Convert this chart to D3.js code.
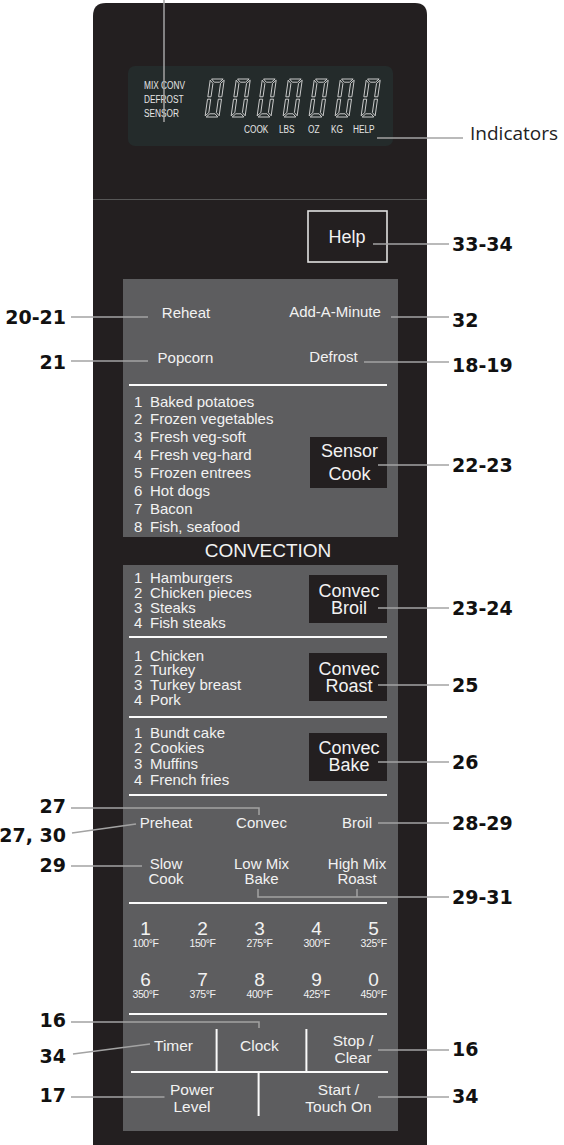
<!DOCTYPE html>
<html>
<head>
<meta charset="utf-8">
<script src="https://cdn.jsdelivr.net/npm/d3@7"></script>
<style>
  body { margin: 0; background: #fff; }
</style>
</head>
<body>
<div id="panel"></div>
<script>

// texts shown on the control panel
var modeIndicators = ["MIX CONV", "DEFROST", "SENSOR"];
var unitIndicators = ["COOK", "LBS", "OZ", "KG", "HELP"];
var displayDigits = [0, 0, 0, 0, 0, 0, 0];
var sensorFoods = ["Baked potatoes", "Frozen vegetables", "Fresh veg-soft", "Fresh veg-hard",
                   "Frozen entrees", "Hot dogs", "Bacon", "Fish, seafood"];
var broilFoods = ["Hamburgers", "Chicken pieces", "Steaks", "Fish steaks"];
var roastFoods = ["Chicken", "Turkey", "Turkey breast", "Pork"];
var bakeFoods = ["Bundt cake", "Cookies", "Muffins", "French fries"];
var numberKeys = ["1", "2", "3", "4", "5", "6", "7", "8", "9", "0"];
var keyTemps = ["100°F", "150°F", "275°F", "300°F", "325°F", "350°F", "375°F", "400°F", "425°F", "450°F"];
var convecModes = [["Preheat"], ["Convec"], ["Broil"], ["Slow", "Cook"], ["Low Mix", "Bake"], ["High Mix", "Roast"]];
var rightCallouts = ["33-34", "32", "18-19", "22-23", "23-24", "25", "26", "28-29", "29-31", "16", "34"];
var leftCallouts = ["20-21", "21", "27", "27, 30", "29", "16", "34", "17"];

var W = 564, H = 1145;
var dark = "#231f20", grey = "#5d5d5f", ink = "#f2f2f2", lead = "#a3a3a3";
var sans = "'Liberation Sans', Arial, sans-serif";

var svg = d3.select("#panel")
  .append("svg")
    .attr("width", W)
    .attr("height", H);

// ---------- top part with the display ----------
svg.append("path")
  .attr("d", "M93,200 V16 Q93,3 106,3 H415 Q427,3 427,15 V200 Z")
  .attr("fill", dark);

svg.append("rect")
  .attr("x", 128).attr("y", 66).attr("width", 265).attr("height", 80).attr("rx", 7)
  .attr("fill", "#242b2b");

var yMode = d3.scalePoint().domain(d3.range(modeIndicators.length)).range([89, 117]);
svg.append("g").selectAll("text")
  .data(modeIndicators)
  .enter().append("text")
    .attr("font-family", sans).attr("font-size", 11.5)
    .attr("fill", "#e6e6e6")
    .attr("transform", function(d, i) { return "translate(144," + yMode(i) + ") scale(0.72,1)"; })
    .text(function(d) { return d; });

// seven segment digits (all showing 0)
var xDigit = d3.scalePoint().domain(d3.range(displayDigits.length)).range([205, 361]);
var dw = 14, dh = 38, t = 3.2, g = 1.2;
var segs = [
  [[g, -dh], [dw - g, -dh], [dw - g - t, -dh + t], [g + t, -dh + t]],
  [[g, 0], [dw - g, 0], [dw - g - t, -t], [g + t, -t]],
  [[0, -dh + g], [t, -dh + g + t], [t, -dh / 2 - g], [0, -dh / 2 - g]],
  [[0, -g], [t, -g - t], [t, -dh / 2 + g], [0, -dh / 2 + g]],
  [[dw, -dh + g], [dw - t, -dh + g + t], [dw - t, -dh / 2 - g], [dw, -dh / 2 - g]],
  [[dw, -g], [dw - t, -g - t], [dw - t, -dh / 2 + g], [dw, -dh / 2 + g]]
];
var digitG = svg.append("g").selectAll("g")
  .data(displayDigits)
  .enter().append("g")
    .attr("transform", function(d, i) { return "translate(" + xDigit(i) + ",117) skewX(-8)"; });
digitG.selectAll("path")
  .data(segs)
  .enter().append("path")
    .attr("d", function(s) { return "M" + s.join("L") + "Z"; })
    .attr("fill", "none")
    .attr("stroke", "#d6d6d6")
    .attr("stroke-width", 0.9);

var unitX = [244, 279, 308, 331, 353];
svg.append("g").selectAll("text")
  .data(unitIndicators)
  .enter().append("text")
    .attr("font-family", sans).attr("font-size", 11.5)
    .attr("fill", "#e6e6e6")
    .attr("transform", function(d, i) { return "translate(" + unitX[i] + ",133) scale(0.72,1)"; })
    .text(function(d) { return d; });

// ---------- main keypad ----------
svg.append("rect")
  .attr("x", 93).attr("y", 200).attr("width", 334).attr("height", H - 200)
  .attr("fill", dark);
svg.append("line")
  .attr("x1", 93).attr("x2", 427).attr("y1", 199.5).attr("y2", 199.5)
  .attr("stroke", "#575757").attr("stroke-width", 1);

svg.append("rect")
  .attr("x", 308).attr("y", 211).attr("width", 79).attr("height", 51)
  .attr("fill", "none").attr("stroke", "#e0e0e0").attr("stroke-width", 1.6);

svg.append("rect").attr("x", 123).attr("y", 279).attr("width", 275).attr("height", 258).attr("fill", grey);
svg.append("rect").attr("x", 123).attr("y", 565).attr("width", 275).attr("height", 566).attr("fill", grey);

function label(x, y, lines, size, lh) {
  var tx = svg.append("text")
    .attr("x", x).attr("y", y)
    .attr("text-anchor", "middle")
    .attr("font-family", sans).attr("font-size", size)
    .attr("fill", ink);
  lines.forEach(function(s, i) {
    tx.append("tspan").attr("x", x).attr("y", y + i * lh).text(s);
  });
}

label(347, 243, ["Help"], 18, 0);
label(186, 318, ["Reheat"], 15, 0);
label(335, 317, ["Add-A-Minute"], 15, 0);
label(185.5, 363, ["Popcorn"], 15, 0);
label(333.5, 362, ["Defrost"], 15, 0);

function rule(y) {
  svg.append("line")
    .attr("x1", 129).attr("x2", 387).attr("y1", y).attr("y2", y)
    .attr("stroke", "#fafafa").attr("stroke-width", 2);
}
[385, 637, 717, 795, 903, 1014].forEach(rule);

// numbered food lists
function foodList(items, y0, y1) {
  var y = d3.scalePoint().domain(d3.range(items.length)).range([y0, y1]);
  var gl = svg.append("g")
    .attr("font-family", sans).attr("font-size", 15).attr("fill", ink);
  gl.selectAll(".num").data(items).enter().append("text")
    .attr("x", 134).attr("y", function(d, i) { return y(i); })
    .text(function(d, i) { return i + 1; });
  gl.selectAll(".name").data(items).enter().append("text")
    .attr("x", 150).attr("y", function(d, i) { return y(i); })
    .text(function(d) { return d; });
}
foodList(sensorFoods, 406.5, 531.5);
foodList(broilFoods, 582.5, 628);
foodList(roastFoods, 660.5, 704.5);
foodList(bakeFoods, 737.5, 785);

function darkKey(x, y, w, h, lines, ty, lh) {
  svg.append("rect").attr("x", x).attr("y", y).attr("width", w).attr("height", h).attr("fill", dark);
  label(x + w / 2 + 1, ty, lines, 18, lh);
}
darkKey(310, 437, 77, 51, ["Sensor", "Cook"], 457, 22.5);
label(268, 557, ["CONVECTION"], 19, 0);
darkKey(309, 575, 78, 48, ["Convec", "Broil"], 597, 17);
darkKey(309, 653, 78, 48, ["Convec", "Roast"], 675, 17);
darkKey(309, 733, 78, 48, ["Convec", "Bake"], 754, 17);

// convection modes
var xMode = d3.scalePoint().domain([0, 1, 2]).range([166, 357]);
convecModes.forEach(function(m, i) {
  label(xMode(i % 3), i < 3 ? 828 : 869, m, 15, 15);
});

// number pad
var xKey = d3.scalePoint().domain(d3.range(5)).range([145.5, 373.6]);
var yKey = d3.scalePoint().domain([0, 1]).range([935, 986]);
var keys = svg.append("g").selectAll("g")
  .data(numberKeys)
  .enter().append("g")
    .attr("transform", function(d, i) { return "translate(" + xKey(i % 5) + "," + yKey(Math.floor(i / 5)) + ")"; });
keys.append("text")
  .attr("text-anchor", "middle").attr("font-family", sans).attr("font-size", 19).attr("fill", ink)
  .text(function(d) { return d; });
keys.append("text")
  .attr("y", 12)
  .attr("text-anchor", "middle").attr("font-family", sans).attr("font-size", 10.5)
  .attr("letter-spacing", -0.4).attr("fill", ink)
  .text(function(d, i) { return keyTemps[i]; });

// bottom keys
var divider = d3.line();
[[[216.6, 1029], [216.6, 1072]], [[306.4, 1029], [306.4, 1072]],
 [[131, 1072], [388, 1072]], [[258.6, 1072], [258.6, 1116]]].forEach(function(p) {
  svg.append("path").attr("d", divider(p)).attr("stroke", "#fafafa").attr("stroke-width", 2).attr("fill", "none");
});
label(173.5, 1051, ["Timer"], 15.5, 0);
label(259.5, 1051, ["Clock"], 15.5, 0);
label(353, 1046, ["Stop /", "Clear"], 15.5, 16.5);
label(192, 1095, ["Power", "Level"], 15.5, 17);
label(338.5, 1095, ["Start /", "Touch On"], 15.5, 17);

// ---------- callouts ----------
var leader = d3.line();
function leadLine(pts) {
  svg.append("path")
    .attr("d", leader(pts))
    .attr("fill", "none")
    .attr("stroke", lead)
    .attr("stroke-width", 1.5);
}
function tag(text, x, y, anchor) {
  svg.append("text")
    .attr("x", x).attr("y", y + 7)
    .attr("text-anchor", anchor)
    .attr("font-family", "'DejaVu Sans', sans-serif")
    .attr("font-weight", "bold")
    .attr("font-size", 19)
    .attr("fill", "#111")
    .text(text);
}

// right side: [from x, y]
var rightFrom = [[373, 244], [391, 317], [364, 362], [378, 465], [378, 608], [378, 685], [378, 762],
                 [378, 823], null, [378, 1050], [378, 1097]];
var rightY = [244, 320, 365, 465, 608, 685, 762, 823, 897, 1049, 1096];
rightCallouts.forEach(function(c, i) {
  if (rightFrom[i]) leadLine([rightFrom[i], [449, rightFrom[i][1]]]);
  tag(c, 452, rightY[i], "start");
});
leadLine([[258, 889], [258, 897], [449, 897]]);
leadLine([[357, 889], [357, 897]]);

// left side
var leftPaths = [
  [[71, 317], [148, 317]],
  [[71, 361], [148, 361]],
  [[71, 808], [259, 808], [259, 815]],
  [[72, 833], [136, 824]],
  [[71, 866], [142, 866]],
  [[71, 1022], [259, 1022], [259, 1028]],
  [[73, 1054], [150, 1044]],
  [[71, 1097], [164.5, 1097]]
];
var leftY = [317, 362, 806, 835, 865, 1020, 1056, 1095];
leftCallouts.forEach(function(c, i) {
  leadLine(leftPaths[i]);
  tag(c, 66, leftY[i], "end");
});

// display leaders
leadLine([[164, 0], [164, 122]]);
leadLine([[377, 138], [463, 138]]);
svg.append("text")
  .attr("x", 470).attr("y", 140)
  .attr("font-family", "'Open Sans', sans-serif")
  .attr("font-size", 19)
  .attr("fill", "#222")
  .text("Indicators");

</script>
</body>
</html>
